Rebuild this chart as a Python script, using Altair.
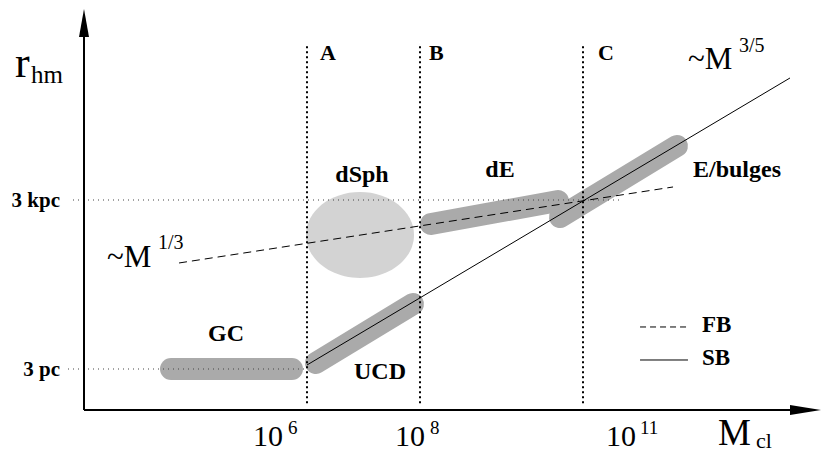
import altair as alt
import pandas as pd

# Coordinates: x = log10(M_cl), y = log10(r_hm / pc)
X_DOMAIN = [2.312, 13.858]
Y_DOMAIN = [-1.014, 6.885]

# Regime boundaries A, B, C
bound_labels = ["A", "B", "C"]
bound_logM = [6.553, 8.156, 10.468]
bound_label_logM = [6.738, 8.284, 10.681]
bound_lo, bound_hi = -0.13, 6.23
bound_label_logr = 5.962

# Reference radii (3 kpc, 3 pc)
ref_labels = ["3 kpc", "3 pc"]
ref_logr = [3.477, 0.477]
ref_start = [3.234, 3.163]
ref_end = [10.993, 6.525]
ref_label_logM = 3.050
ref_label_logr = [3.353, 0.353]

# Object bands
band_names = ["GC", "UCD", "dE", "E/bulges"]
band_logM0 = [4.624, 6.681, 8.312, 10.142]
band_logM1 = [6.340, 8.057, 10.113, 11.801]
band_logr0 = [0.477, 0.584, 3.051, 3.175]
band_logr1 = [0.477, 1.631, 3.459, 4.436]
band_label_logM = [5.404, 7.589, 9.291, 12.652]
band_label_logr = [0.974, 0.300, 3.885, 3.885]

# dSph region
dsph_logM, dsph_logr = 7.305, 2.856
dsph_label_logM, dsph_label_logr = 7.333, 3.797

# Relations
rel_names = ["SB", "FB"]
rel_logM0 = [6.553, 4.738]
rel_logM1 = [13.404, 11.745]
rel_logr0 = [0.548, 2.359]
rel_logr1 = [5.643, 3.708]

# Legend
leg_names = ["FB", "SB"]
leg_logM0, leg_logM1 = 11.277, 11.957
leg_logr = [1.223, 0.637]
leg_text_logM = 12.156
leg_text_logr = [1.134, 0.548]

# Axes
axis_logM, axis_logr = 3.390, -0.2507
yarrow_logr, xarrow_logM = 6.619, 13.624

# Tick labels
tick_base = ["10", "10", "10"]
tick_exp = ["6", "8", "11"]
tick_logM = [6.0, 8.014, 11.007]
tick_exp_logM = [6.284, 8.298, 11.277]
tick_logr, tick_exp_logr = -0.89, -0.68

SERIF = "Liberation Serif"
xs = alt.Scale(domain=X_DOMAIN, nice=False, zero=False)
ys = alt.Scale(domain=Y_DOMAIN, nice=False, zero=False)
X = lambda f="x": alt.X(f, type="quantitative", scale=xs, axis=None)
Y = lambda f="y": alt.Y(f, type="quantitative", scale=ys, axis=None)


def segs(names, x0, x1, y0, y1):
    rows = []
    for n, a, b, c, d in zip(names, x0, x1, y0, y1):
        rows.append({"id": n, "x": a, "y": c, "o": 0})
        rows.append({"id": n, "x": b, "y": d, "o": 1})
    return pd.DataFrame(rows)


def seg_layer(df, **kw):
    return alt.Chart(df).mark_line(**kw).encode(
        x=X(), y=Y(), detail="id:N", order="o:Q")


def text_layer(labels, xv, yv, size, weight="normal", align="left"):
    df = pd.DataFrame({"t": labels, "x": xv, "y": yv})
    return alt.Chart(df).mark_text(
        font=SERIF, fontSize=size, fontWeight=weight, align=align,
        baseline="alphabetic", color="black").encode(x=X(), y=Y(), text="t:N")


n = len(bound_labels)
vlines = seg_layer(segs(bound_labels, bound_logM, bound_logM, [bound_lo] * n, [bound_hi] * n),
                   color="black", strokeWidth=2, strokeDash=[2, 3])
hlines = seg_layer(segs(ref_labels, ref_start, ref_end, ref_logr, ref_logr),
                   color="#444444", strokeWidth=1.2, strokeDash=[1, 4])

ellipse = alt.Chart(pd.DataFrame({"x": [dsph_logM], "y": [dsph_logr]})).mark_point(
    shape="M -1 0 A 1 0.796 0 1 1 1 0 A 1 0.796 0 1 1 -1 0 Z",
    size=11664, filled=True, color="#d3d3d3", opacity=1, strokeWidth=0
).encode(x=X(), y=Y())

bands = seg_layer(segs(band_names, band_logM0, band_logM1, band_logr0, band_logr1),
                  color="#aaaaaa", strokeWidth=22, strokeCap="round")

rel_df = segs(rel_names, rel_logM0, rel_logM1, rel_logr0, rel_logr1)
sb = seg_layer(rel_df[rel_df.id == "SB"], color="black", strokeWidth=1)
fb = seg_layer(rel_df[rel_df.id == "FB"], color="black", strokeWidth=1, strokeDash=[8, 5])

leg_df = segs(leg_names, [leg_logM0] * 2, [leg_logM1] * 2, leg_logr, leg_logr)
leg_fb = seg_layer(leg_df[leg_df.id == "FB"], color="black", strokeWidth=1, strokeDash=[6, 4])
leg_sb = seg_layer(leg_df[leg_df.id == "SB"], color="black", strokeWidth=1)

axes = seg_layer(segs(["yaxis", "xaxis"], [axis_logM, axis_logM], [axis_logM, xarrow_logM - 0.1],
                      [axis_logr, axis_logr], [yarrow_logr, axis_logr]),
                 color="black", strokeWidth=2)
yarrow = alt.Chart(pd.DataFrame({"x": [axis_logM], "y": [yarrow_logr]})).mark_point(
    shape="M 0 -1 L 0.357 1 L -0.357 1 Z", size=784, filled=True, color="black", opacity=1
).encode(x=X(), y=Y())
xarrow = alt.Chart(pd.DataFrame({"x": [xarrow_logM], "y": [axis_logr]})).mark_point(
    shape="M 1 0 L -1 -0.32 L -1 0.32 Z", size=961, filled=True, color="black", opacity=1
).encode(x=X(), y=Y())

texts = [
    text_layer(bound_labels, bound_label_logM, [bound_label_logr] * n, 22, "bold"),
    text_layer(ref_labels, [ref_label_logM] * 2, ref_label_logr, 21, "bold", "right"),
    text_layer(band_names, band_label_logM, band_label_logr, 24, "bold", "center"),
    text_layer(["dSph"], [dsph_label_logM], [dsph_label_logr], 24, "bold", "center"),
    text_layer(leg_names, [leg_text_logM] * 2, leg_text_logr, 23, "bold"),
    text_layer(["~M", "~M"], [3.716, 11.957], [2.288, 5.803], 31),
    text_layer(["1/3", "3/5"], [4.440, 12.681], [2.607, 6.104], 20),
    text_layer(["r"], [2.411], [5.660], 44),
    text_layer(["hm"], [2.638], [5.554], 25),
    text_layer(["M"], [12.383], [-0.87], 37),
    text_layer(["cl"], [12.922], [-0.93], 22),
    text_layer(tick_base, tick_logM, [tick_logr] * 3, 30, "normal", "center"),
    text_layer(tick_exp, tick_exp_logM, [tick_exp_logr] * 3, 19),
]

chart = alt.layer(
    ellipse, bands, vlines, hlines, sb, fb, leg_fb, leg_sb, axes, yarrow, xarrow, *texts
).properties(
    width=814, height=445, autosize=alt.AutoSizeParams(type="none"), padding=0,
    background="white"
).configure_view(stroke=None)

chart.save("out.html", embed_options={"renderer": "svg", "actions": False})
